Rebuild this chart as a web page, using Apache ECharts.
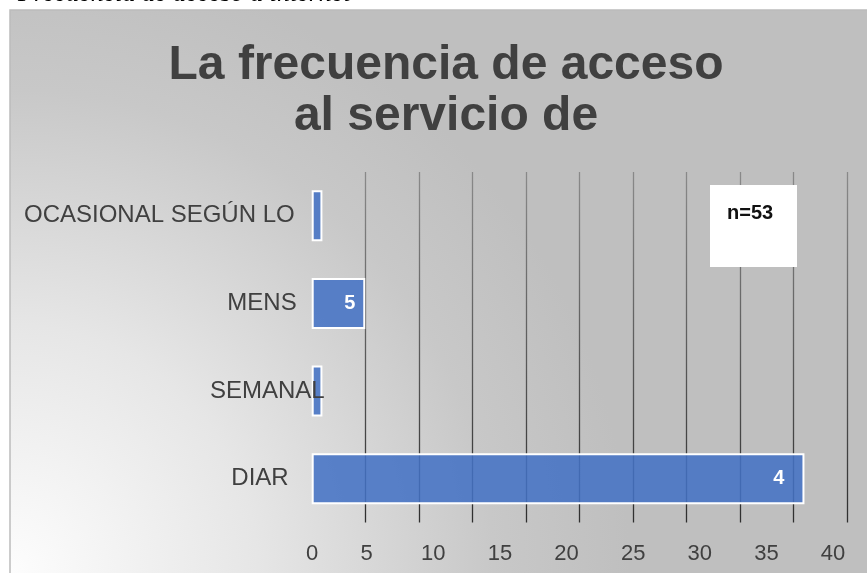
<!DOCTYPE html>
<html>
<head>
<meta charset="utf-8">
<script src="https://cdn.jsdelivr.net/npm/echarts@6/dist/echarts.min.js"></script>
<style>
  html, body { margin: 0; padding: 0; background: #fff; }
  #chart { width: 867px; height: 573px; }
</style>
</head>
<body>
<div id="chart"></div>
<script>
// categories from bottom to top, as the bar axis draws them
const categories = ['DIAR', 'SEMANAL', 'MENS', 'OCASIONAL SEGÚN LO']
const counts = [46, 1, 5, 1]
// data labels as they show in the picture (cut off by the chart)
const barLabels = ['4', '', '5', '']
const xTickLabels = ['0', '5', '10', '15', '20', '25', '30', '35', '40']
const sampleNote = 'n=53'

const chart = echarts.init(document.getElementById('chart'))

const labelPad = {
  'DIAR': [0, 36, 0, 0],
  'SEMANAL': [0, 0, 0, 0],
  'MENS': [0, 28, 0, 0],
  'OCASIONAL SEGÚN LO': [0, 30, 0, 0]
}

const rich = {}
categories.forEach((c, i) => {
  rich['c' + i] = {
    fontSize: 24,
    color: '#404040',
    fontFamily: 'Liberation Sans, Arial, sans-serif',
    padding: labelPad[c]
  }
})

const option = {
  animation: false,
  backgroundColor: '#ffffff',
  title: {
    text: 'La frecuencia de acceso\nal servicio de',
    left: 446,
    top: 40,
    textAlign: 'center',
    padding: 0,
    textStyle: {
      fontFamily: 'Liberation Sans, Arial, sans-serif',
      fontSize: 48,
      fontWeight: 'bold',
      lineHeight: 51,
      color: '#404040'
    }
  },
  graphic: [
    {
      type: 'text',
      z: -20,
      x: 18,
      y: 7,
      style: {
        text: 'Frecuencia de acceso a internet',
        font: 'italic 26px "Liberation Serif", "Times New Roman", serif',
        fill: '#000',
        verticalAlign: 'bottom'
      }
    },
    {
      type: 'rect',
      z: -10,
      shape: { x: 10, y: 10, width: 870, height: 570 },
      style: {
        fill: {
          type: 'radial', x: 10, y: 573, r: 620, global: true,
          colorStops: [
            { offset: 0, color: '#fdfdfd' },
            { offset: 0.4, color: '#e6e6e6' },
            { offset: 0.78, color: '#c8c8c8' },
            { offset: 1, color: '#bfbfbf' }
          ]
        },
        stroke: '#bcbcbc',
        lineWidth: 1.5
      }
    },
    {
      type: 'rect',
      z: 100,
      shape: { x: 710, y: 185, width: 87, height: 82 },
      style: { fill: '#ffffff' }
    },
    {
      type: 'text',
      z: 101,
      x: 727,
      y: 213,
      style: {
        text: sampleNote,
        font: 'bold 20px "Liberation Sans Narrow", "Liberation Sans", Arial, sans-serif',
        fill: '#111',
        verticalAlign: 'middle'
      }
    }
  ],
  grid: [
    { left: 311.7, right: 19.7, top: 172, bottom: 50.5 },
    { left: 300, right: 34, top: 172, bottom: 50.5 }
  ],
  xAxis: [
    {
      type: 'value',
      gridIndex: 0,
      min: 0,
      max: 50,
      interval: 5,
      axisLine: { show: false },
      axisTick: { show: false },
      axisLabel: { show: false },
      splitLine: {
        show: true,
        showMinLine: false,
        lineStyle: {
          width: 1.3,
          color: {
            type: 'linear', x: 0, y: 0, x2: 0, y2: 1,
            colorStops: [
              { offset: 0, color: '#8a8a8a' },
              { offset: 1, color: '#2e2e2e' }
            ]
          }
        }
      }
    },
    {
      type: 'category',
      gridIndex: 1,
      data: xTickLabels,
      boundaryGap: false,
      axisLine: { show: false },
      axisTick: { show: false },
      splitLine: { show: false },
      axisLabel: {
        interval: 0,
        margin: 20,
        fontSize: 22,
        color: '#404040',
        fontFamily: 'Liberation Sans, Arial, sans-serif',
        formatter: (v, i) => i === 0 ? '{z|' + v + '}' : v,
        rich: { z: { fontSize: 22, color: '#404040', padding: [0, 0, 0, 24] } }
      }
    }
  ],
  yAxis: [
    {
      type: 'category',
      gridIndex: 0,
      z: 10,
      data: categories,
      axisLine: { show: false },
      axisTick: { show: false },
      splitLine: { show: false },
      axisLabel: {
        margin: -13,
        formatter: (v, i) => '{c' + i + '|' + v + '}',
        rich: rich
      }
    },
    { type: 'value', gridIndex: 1, show: false }
  ],
  series: [
    {
      type: 'bar',
      xAxisIndex: 0,
      yAxisIndex: 0,
      barWidth: 51,
      data: counts.map((v, i) => ({
        value: v,
        label: {
          show: barLabels[i] !== '',
          formatter: barLabels[i],
          distance: i === 0 ? 20 : 10
        }
      })),
      itemStyle: {
        color: 'rgba(68,114,196,0.87)',
        borderColor: '#ffffff',
        borderWidth: 2
      },
      label: {
        position: 'insideRight',
        color: '#ffffff',
        fontSize: 20,
        fontWeight: 'bold',
        fontFamily: 'Liberation Sans, Arial, sans-serif'
      }
    }
  ]
}

chart.setOption(option)
</script>
</body>
</html>
